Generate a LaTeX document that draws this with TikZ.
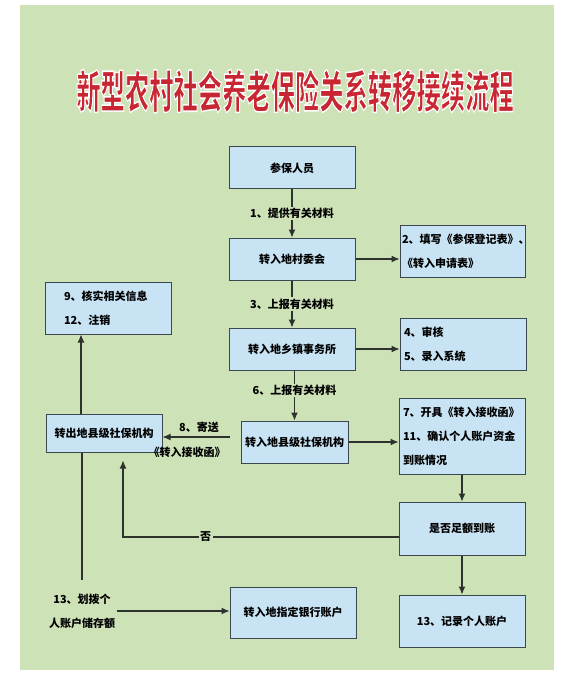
\documentclass[tikz,border=0pt]{standalone}
\usepackage{fontspec}
\setmainfont{Noto Sans CJK SC}
\usetikzlibrary{positioning,arrows.meta}

\definecolor{bggreen}{RGB}{206,226,184}
\definecolor{boxblue}{RGB}{200,227,243}
\definecolor{boxline}{RGB}{60,72,80}
\definecolor{linegray}{RGB}{45,50,45}
\definecolor{titlered}{RGB}{200,38,50}

\newcommand{\bodyfont}{\fontsize{11}{24}\selectfont\bfseries}
% red glyphs with a white outline (text render mode 2)
\newcommand{\titletext}{\fontsize{45}{45}\selectfont\bfseries\scalebox{0.54}[1]{\special{pdf:literal direct 2 Tr 1.5 w 1 1 1 RG}新型农村社会养老保险关系转移接续流程\special{pdf:literal direct 0 Tr}}}

\begin{document}
\begin{tikzpicture}[x=1pt,y=-1pt,
    box/.style={rectangle, draw=boxline, fill=boxblue, line width=1pt, minimum width=126pt, minimum height=42pt, font=\bodyfont, inner sep=3pt},
    notebox/.style={box, align=left, text width=118pt, inner xsep=4pt},
    arr/.style={draw=linegray, line width=1.1pt, -{Latex[length=8pt,width=7pt]}},
    lab/.style={fill=bggreen, inner sep=1.5pt, font=\bodyfont}]
        \useasboundingbox (0,0) rectangle (573,676);
        \fill[white] (0,0) rectangle (573,676);
        \fill[bggreen] (20,5) rectangle (554,670);

        \node (title) [text=titlered] at (295,91) {\titletext};

        \node (renyuan) [box] at (292,168) {参保人员};
        \node (cunwei) [box, below=48pt of renyuan] {转入地村委会};
        \node (tianxie) [notebox, minimum width=125pt, minimum height=52pt, inner xsep=2pt, text width=121pt, right=44pt of cunwei, yshift=8pt] {2、填写《参保登记表》、\\《转入申请表》};
        \node (xiangzhen) [box, below=47pt of cunwei] {转入地乡镇事务所};
        \node (shenhe) [notebox, minimum height=52pt, right=44pt of xiangzhen, yshift=5pt] {4、审核\\5、录入系统};
        \node (zhuanru) [box, minimum width=107pt, below=50pt of xiangzhen, xshift=2.5pt] {转入地县级社保机构};
        \node (kaiju) [notebox, minimum height=76pt, right=50pt of zhuanru, yshift=6pt] {7、开具《转入接收函》\\11、确认个人账户资金\\到账情况};
        \node (zuee) [box, minimum height=53pt, below=27pt of kaiju] {是否足额到账};
        \node (jilu) [box, minimum height=52pt, below=39pt of zuee] {13、记录个人账户};
        \node (zhuanchu) [box, minimum width=116pt, minimum height=38pt, left=78pt of zhuanru, yshift=9pt] {转出地县级社保机构};
        \node (heshi) [notebox, minimum height=52pt, text width=88pt, inner xsep=19pt, above=79pt of zhuanchu, xshift=4pt] {9、核实相关信息\\12、注销};
        \node (yinhang) [box, minimum height=51pt, below=123pt of zhuanru, xshift=-1.5pt] {转入地指定银行账户};
        \node (huabo) [font=\bodyfont, align=center, inner sep=2pt] at (82,611) {13、划拨个\\人账户储存额};

        \draw[arr] (renyuan) -- node[lab] {1、提供有关材料} (cunwei);
        \draw[arr] (cunwei) -- node[lab] {3、上报有关材料} (xiangzhen);
        \draw[arr] (xiangzhen.south -| zhuanru.north) -- node[lab, pos=0.4] {6、上报有关材料} (zhuanru.north);
        \draw[arr] (cunwei) -- (cunwei -| tianxie.west);
        \draw[arr] (xiangzhen) -- (xiangzhen -| shenhe.west);
        \draw[arr] (zhuanru) -- (zhuanru -| kaiju.west);
        \draw[arr] (kaiju.south) -- (zuee.north);
        \draw[arr] (zuee) -- (jilu);
        \draw[arr] ([xshift=-11pt,yshift=5pt]zhuanru.west) -- node[font=\bodyfont, above, xshift=3pt] {8、寄送} node[font=\bodyfont, below=6pt, xshift=-9pt] {《转入接收函》} ([yshift=5pt]zhuanru.west -| zhuanchu.east);
        \draw[arr, shorten >=8pt] ([yshift=-8.5pt]zuee.west) -| node[lab, pos=0.35] {否} ([xshift=19pt]zhuanchu.south);
        \draw[arr] ([xshift=-23pt]zhuanchu.north) -- ([xshift=-23pt]zhuanchu.north |- heshi.south);
        \draw[draw=linegray, line width=1.1pt] (zhuanchu.south -| huabo.north) -- ([yshift=12pt]huabo.north);
        \draw[arr] (huabo.east) -- (huabo.east -| yinhang.west);
\end{tikzpicture}
\end{document}
